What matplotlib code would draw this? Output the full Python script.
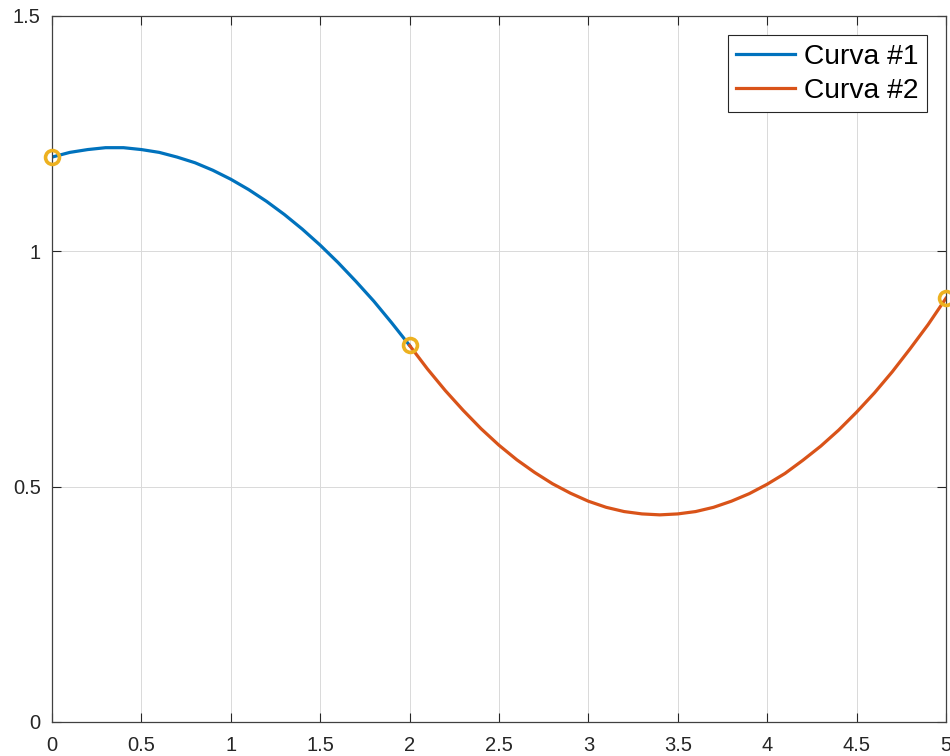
import matplotlib.pyplot as plt

# valori
x1 = [0.0, 0.1, 0.2, 0.3, 0.4, 0.5, 0.6, 0.7, 0.8, 0.9, 1.0,
      1.1, 1.2, 1.3, 1.4, 1.5, 1.6, 1.7, 1.8, 1.9, 2.0]
y1 = [1.200, 1.210, 1.216, 1.220, 1.220, 1.216, 1.210, 1.200, 1.188, 1.172, 1.153,
      1.131, 1.106, 1.078, 1.047, 1.013, 0.976, 0.936, 0.894, 0.848, 0.800]

x2 = [2.0, 2.1, 2.2, 2.3, 2.4, 2.5, 2.6, 2.7, 2.8, 2.9, 3.0,
      3.1, 3.2, 3.3, 3.4, 3.5, 3.6, 3.7, 3.8, 3.9, 4.0,
      4.1, 4.2, 4.3, 4.4, 4.5, 4.6, 4.7, 4.8, 4.9, 5.0]
y2 = [0.800, 0.750, 0.704, 0.662, 0.623, 0.588, 0.557, 0.530, 0.506, 0.486, 0.469,
      0.456, 0.447, 0.442, 0.440, 0.442, 0.447, 0.456, 0.469, 0.485, 0.505,
      0.528, 0.556, 0.586, 0.620, 0.658, 0.699, 0.744, 0.793, 0.844, 0.900]

# punti di raccordo
xp = [0, 2, 5]
yp = [1.2, 0.8, 0.9]

xticks = [0, 0.5, 1, 1.5, 2, 2.5, 3, 3.5, 4, 4.5, 5]
xlabels = ['0', '0.5', '1', '1.5', '2', '2.5', '3', '3.5', '4', '4.5', '5']
yticks = [0, 0.5, 1, 1.5]
ylabels = ['0', '0.5', '1', '1.5']

plt.rcParams['font.family'] = ['Liberation Sans', 'DejaVu Sans']

fig = plt.figure(figsize=(9.5, 7.56), dpi=100)
ax = fig.add_axes([0.0547, 0.045, 0.941, 0.934])

ax.plot(x1, y1, color='#0072BD', linewidth=2.3, label='Curva #1')
ax.plot(x2, y2, color='#D95319', linewidth=2.3, label='Curva #2')
ax.plot(xp, yp, 'o', markerfacecolor='none', markeredgecolor='#EDB120',
        markersize=10, markeredgewidth=2.6, clip_on=False, zorder=5)

ax.set_xlim(0, 5)
ax.set_ylim(0, 1.5)
ax.set_xticks(xticks)
ax.set_xticklabels(xlabels)
ax.set_yticks(yticks)
ax.set_yticklabels(ylabels)
ax.tick_params(direction='in', length=6.5, width=0.8, labelsize=14.5,
               colors='#262626', top=True, right=True)
ax.tick_params(axis='x', pad=10)
ax.tick_params(axis='y', pad=8)
ax.grid(True, color='#d9d9d9', linewidth=0.7)
ax.set_axisbelow(True)
for s in ax.spines.values():
    s.set_color('#404040')
    s.set_linewidth(0.9)

leg = ax.legend(loc='upper right', fontsize=20.3, fancybox=False, framealpha=1,
                edgecolor='#262626', handlelength=2.1, borderaxespad=0.68,
                labelspacing=0.3, borderpad=0.3, handletextpad=0.3)
leg.get_frame().set_linewidth(0.8)

fig.savefig('out.png')
